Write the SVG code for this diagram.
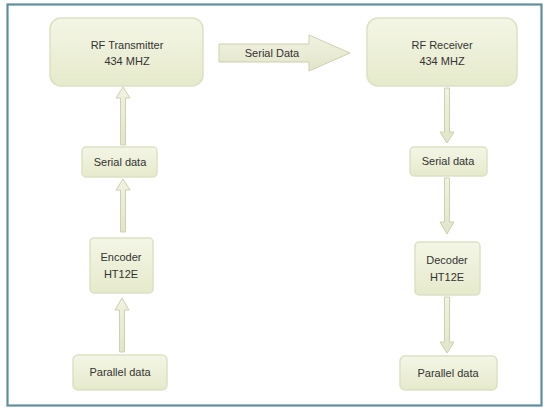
<svg xmlns="http://www.w3.org/2000/svg" width="547" height="408" viewBox="0 0 547 408">
<defs>
<linearGradient id="g" x1="0" y1="0" x2="0" y2="1">
<stop offset="0" stop-color="#f4f6e6"/>
<stop offset="1" stop-color="#e6eacb"/>
</linearGradient>
<linearGradient id="ga" x1="0" y1="0" x2="0" y2="1">
<stop offset="0" stop-color="#f1f2e2"/>
<stop offset="1" stop-color="#e2e5c8"/>
</linearGradient>
</defs>
<style>
.box{fill:url(#g);stroke:#dde1c4;stroke-width:1.5}
.arr{fill:url(#ga);stroke:#cdd1ae;stroke-width:1}
text{font-family:"Liberation Sans",Arial,sans-serif;font-size:11px;fill:#333333;text-anchor:middle}
</style>
<rect x="0" y="0" width="547" height="408" fill="#ffffff"/>
<rect x="7.5" y="4.5" width="534" height="401" fill="#ffffff" stroke="#5f8f9c" stroke-width="2.2"/>
<g id="connectors">
<path class="arr" d="M219,44 H309 V35 L350,53 L309,71 V62 H219 Z"/>
<text x="272" y="57">Serial Data</text>
<path class="arr" d="M120.5,145 V98 H116 L123,87 L130,98 H125.5 V145 Z"/>
<path class="arr" d="M120.5,232 V190 H116 L123,179 L130,190 H125.5 V232 Z"/>
<path class="arr" d="M119.5,352 V310 H115 L122,298 L129,310 H124.5 V352 Z"/>
<path class="arr" d="M444.5,88 V132 H440 L447,143 L454,132 H449.5 V88 Z"/>
<path class="arr" d="M444.5,178 V222 H440 L447,234 L454,222 H449.5 V178 Z"/>
<path class="arr" d="M444.5,297 V342 H440 L447,353 L454,342 H449.5 V297 Z"/>
</g>
<g id="rf-transmitter">
<rect class="box" x="50" y="18" width="153" height="68" rx="11"/>
<text x="127" y="49">RF Transmitter</text>
<text x="127" y="65">434 MHZ</text>
</g>
<g id="rf-receiver">
<rect class="box" x="367" y="18" width="150" height="68" rx="11"/>
<text x="442" y="49">RF Receiver</text>
<text x="442" y="65">434 MHZ</text>
</g>
<g id="serial-data-left">
<rect class="box" x="82" y="147" width="75" height="30" rx="4"/>
<text x="120" y="166">Serial data</text>
</g>
<g id="encoder">
<rect class="box" x="90" y="238" width="63" height="55" rx="4"/>
<text x="121" y="261">Encoder</text>
<text x="121" y="278">HT12E</text>
</g>
<g id="parallel-data-left">
<rect class="box" x="73" y="355" width="94" height="35" rx="5"/>
<text x="120" y="376">Parallel data</text>
</g>
<g id="serial-data-right">
<rect class="box" x="410" y="147" width="77" height="29" rx="4"/>
<text x="448" y="165">Serial data</text>
</g>
<g id="decoder">
<rect class="box" x="415" y="242" width="65" height="53" rx="4"/>
<text x="447" y="264">Decoder</text>
<text x="447" y="281">HT12E</text>
</g>
<g id="parallel-data-right">
<rect class="box" x="400" y="356" width="97" height="34" rx="5"/>
<text x="448" y="377">Parallel data</text>
</g>
</svg>
